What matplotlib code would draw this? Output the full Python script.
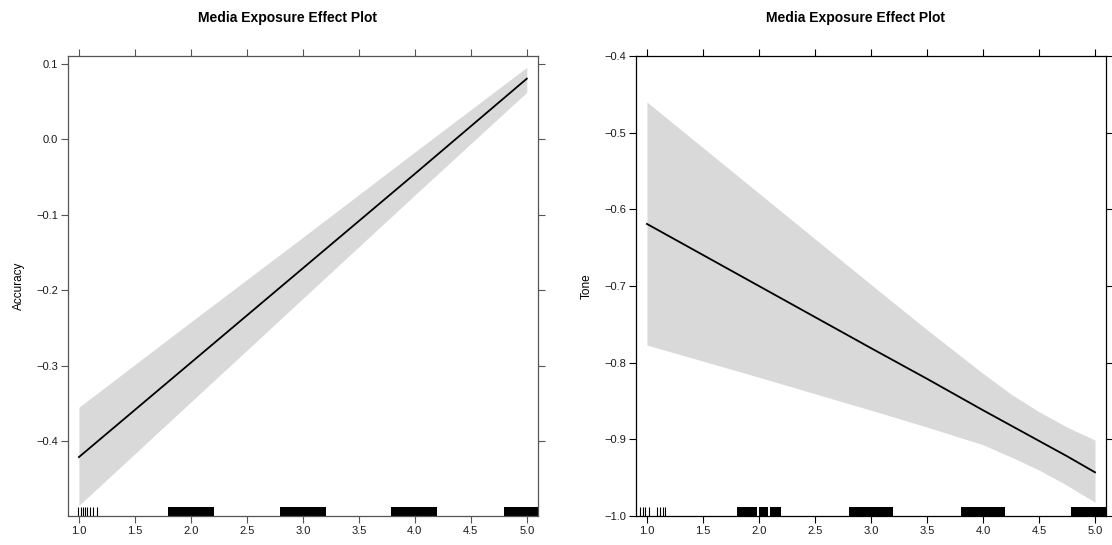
import matplotlib.pyplot as plt
import numpy as np

plt.rcParams['font.family'] = ['Liberation Sans', 'DejaVu Sans']

# effect estimates on a grid of media exposure values
acc_grid = [1.0, 2.0, 3.0, 4.0, 5.0]
acc_fit = [-0.421, -0.296, -0.171, -0.046, 0.080]
acc_upper = [-0.355, -0.242, -0.130, -0.017, 0.095]
acc_lower = [-0.485, -0.348, -0.211, -0.074, 0.062]

tone_grid = [1.0, 2.0, 3.0, 3.5, 4.0, 4.25, 4.5, 4.75, 5.0]
tone_fit = [-0.619, -0.700, -0.781, -0.821, -0.862, -0.882, -0.902, -0.922, -0.943]
tone_upper = [-0.460, -0.579, -0.698, -0.757, -0.814, -0.841, -0.864, -0.884, -0.901]
tone_lower = [-0.777, -0.819, -0.862, -0.884, -0.907, -0.923, -0.940, -0.960, -0.982]

# rug of observed exposure values (single ticks and dense blocks)
acc_rug = [0.99, 1.02, 1.035, 1.05, 1.07, 1.095, 1.125, 1.165]
acc_blocks = [(1.80, 2.21), (2.80, 3.21), (3.79, 4.20), (4.80, 5.12)]
tone_rug = [0.94, 0.965, 0.985, 1.015, 1.09, 1.12, 1.14, 1.16]
tone_blocks = [(1.80, 1.98), (2.00, 2.085), (2.10, 2.20), (2.80, 3.20),
               (3.80, 4.20), (4.79, 5.12)]

xticks = [1.0, 1.5, 2.0, 2.5, 3.0, 3.5, 4.0, 4.5, 5.0]


def panel(ax, grid, fit, upper, lower, rug, blocks, ylim, yticks, ylabel, spine_col):
    ax.fill_between(grid, lower, upper, color='#d9d9d9', lw=0)
    ax.plot(grid, fit, color='black', lw=1.3)
    tr = ax.get_xaxis_transform()
    ax.vlines(rug, 0, 0.02, transform=tr, color='black', lw=0.8)
    for a, b in blocks:
        ax.axvspan(a, b, ymin=0, ymax=0.02, color='black', lw=0)
    ax.set_xlim(0.9, 5.098)
    ax.set_ylim(*ylim)
    ax.set_xticks(xticks)
    ax.set_xticklabels([f'{t:.1f}' for t in xticks])
    ax.set_yticks(yticks)
    ax.set_yticklabels([f'{t:.1f}'.replace('-', '\u2212') for t in yticks])
    ax.tick_params(direction='out', length=5, width=0.8, labelsize=8,
                   pad=2, top=True, right=True, colors=spine_col,
                   labelcolor='#1a1a1a')
    for s in ax.spines.values():
        s.set_color(spine_col)
        s.set_linewidth(0.9)
    ax.set_ylabel(ylabel, fontsize=8.5, labelpad=8)


if __name__ == '__main__':
    fig = plt.figure(figsize=(11.12, 5.45), dpi=100)
    ax1 = fig.add_axes([0.0609, 0.0532, 0.4227, 0.844])
    ax2 = fig.add_axes([0.5717, 0.0532, 0.4229, 0.844])

    panel(ax1, acc_grid, acc_fit, acc_upper, acc_lower, acc_rug, acc_blocks,
          (-0.499, 0.110), [-0.4, -0.3, -0.2, -0.1, 0.0, 0.1],
          'Accuracy', '#555555')
    panel(ax2, tone_grid, tone_fit, tone_upper, tone_lower, tone_rug, tone_blocks,
          (-1.0, -0.4), [-1.0, -0.9, -0.8, -0.7, -0.6, -0.5, -0.4],
          'Tone', 'black')

    fig.text(287 / 1112, 1 - 18 / 545, 'Media Exposure Effect Plot',
             ha='center', va='center', fontsize=10, fontweight='bold')
    fig.text(856 / 1112, 1 - 18 / 545, 'Media Exposure Effect Plot',
             ha='center', va='center', fontsize=10, fontweight='bold')

    fig.savefig('out.png', dpi=100)
